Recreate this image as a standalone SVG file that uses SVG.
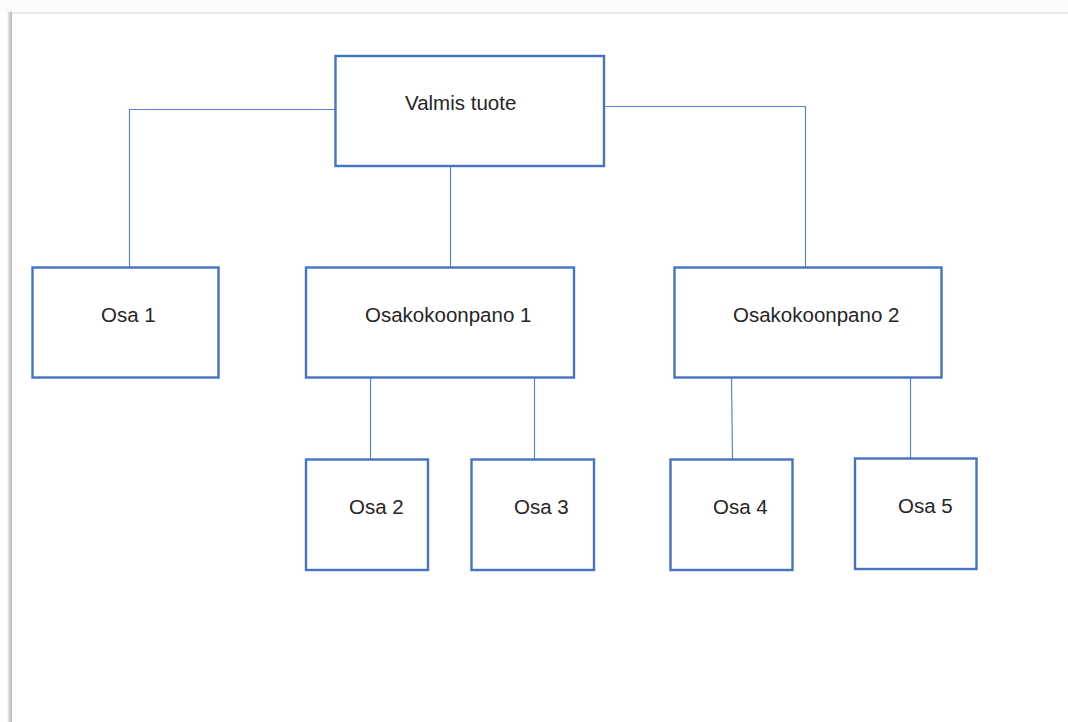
<svg xmlns="http://www.w3.org/2000/svg" width="1068" height="722" viewBox="0 0 1068 722">
<defs>
<linearGradient id="lsh" x1="0" x2="1" y1="0" y2="0">
<stop offset="0" stop-color="#ffffff"/>
<stop offset="0.5" stop-color="#d0d0d0"/>
<stop offset="1" stop-color="#b8b8b8"/>
</linearGradient>
<linearGradient id="tsh" x1="0" x2="0" y1="0" y2="1">
<stop offset="0" stop-color="#fafafa"/>
<stop offset="1" stop-color="#e4e4e4"/>
</linearGradient>
</defs>
<style>
.box{fill:#ffffff;stroke:#4472c4;stroke-width:2.4}
.lbl{font-family:"Liberation Sans",Arial,sans-serif;font-size:20.5px;fill:#262626}
.con{fill:none;stroke:#5b84cf;stroke-width:1.2}
</style>
<rect x="0" y="0" width="1068" height="722" fill="#ffffff"/>
<rect x="0" y="0" width="1068" height="12" fill="#fbfbfb"/>
<rect x="8" y="11" width="1060" height="3" fill="url(#tsh)"/>
<rect x="7" y="12" width="5" height="710" fill="url(#lsh)"/>
<rect x="12" y="14" width="1056" height="708" fill="#ffffff"/>
<g id="connectors">
<polyline class="con" points="335,109.5 129.5,109.5 129.5,267"/>
<polyline class="con" points="604,106.5 805.5,106.5 805.5,267"/>
<line class="con" x1="450.5" y1="166" x2="450.5" y2="267"/>
<line class="con" x1="370.5" y1="378" x2="370.5" y2="459"/>
<line class="con" x1="534.5" y1="378" x2="534.5" y2="459"/>
<line class="con" x1="731.5" y1="378" x2="732.5" y2="459"/>
<line class="con" x1="910.5" y1="378" x2="910.5" y2="458"/>
</g>
<g id="valmis-tuote">
<rect class="box" x="335.5" y="56" width="268.5" height="110"/>
<text class="lbl" x="405" y="110">Valmis tuote</text>
</g>
<g id="osa-1">
<rect class="box" x="32.5" y="267.5" width="186" height="110"/>
<text class="lbl" x="101" y="322">Osa 1</text>
</g>
<g id="osakokoonpano-1">
<rect class="box" x="306" y="267.5" width="268" height="110"/>
<text class="lbl" x="365" y="322">Osakokoonpano 1</text>
</g>
<g id="osakokoonpano-2">
<rect class="box" x="674.5" y="267.5" width="267" height="110"/>
<text class="lbl" x="733" y="322">Osakokoonpano 2</text>
</g>
<g id="osa-2">
<rect class="box" x="306" y="459.5" width="122" height="110.5"/>
<text class="lbl" x="349" y="514">Osa 2</text>
</g>
<g id="osa-3">
<rect class="box" x="471.5" y="459.5" width="122.5" height="110.5"/>
<text class="lbl" x="514" y="514">Osa 3</text>
</g>
<g id="osa-4">
<rect class="box" x="670.5" y="459.5" width="122" height="110.5"/>
<text class="lbl" x="713" y="514">Osa 4</text>
</g>
<g id="osa-5">
<rect class="box" x="855" y="458.5" width="121.5" height="110.5"/>
<text class="lbl" x="898" y="513">Osa 5</text>
</g>
</svg>
